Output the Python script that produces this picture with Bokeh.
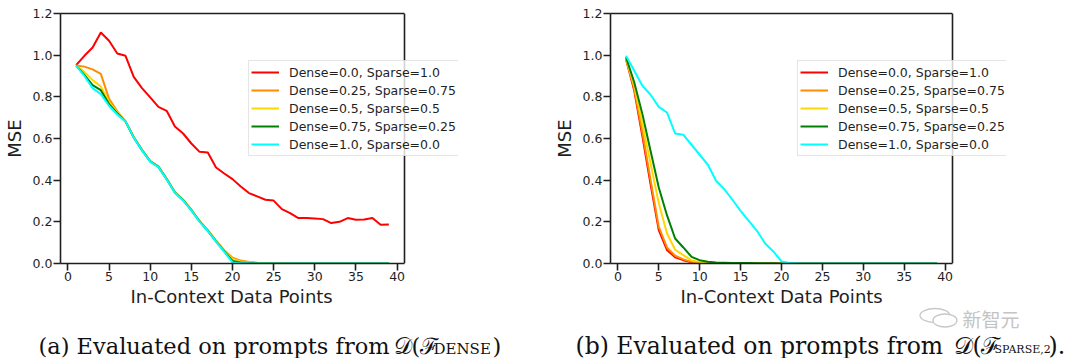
from bokeh.plotting import figure
from bokeh.layouts import column, row
from bokeh.models import (Range1d, FixedTicker, PrintfTickFormatter, Legend, LegendItem,
                          LinearAxis, Span, Title)
from bokeh.embed import file_html
from bokeh.resources import INLINE
from bokeh.core.properties import value

# ---------------- data ----------------
x_points = list(range(1, 40))
x_ticks = [0, 5, 10, 15, 20, 25, 30, 35, 40]
y_ticks = [0.0, 0.2, 0.4, 0.6, 0.8, 1.0, 1.2]

series_labels = ["Dense=0.0, Sparse=1.0", "Dense=0.25, Sparse=0.75", "Dense=0.5, Sparse=0.5",
                 "Dense=0.75, Sparse=0.25", "Dense=1.0, Sparse=0.0"]
series_colors = ["#ff0000", "#ff8c00", "#ffd700", "#008000", "#00ffff"]

x_label = "In-Context Data Points"
y_label = "MSE"

# panel (a): prompts from D(F_DENSE)
a_dense00 = [0.952, 0.997, 1.037, 1.109, 1.069, 1.008, 0.997, 0.896, 0.842, 0.797,
             0.752, 0.733, 0.658, 0.624, 0.576, 0.536, 0.533, 0.461, 0.432, 0.405,
             0.370, 0.338, 0.322, 0.306, 0.302, 0.261, 0.242, 0.218, 0.218, 0.216,
             0.213, 0.194, 0.200, 0.218, 0.210, 0.211, 0.218, 0.186, 0.187]
a_dense025 = [0.950, 0.945, 0.932, 0.910, 0.790, 0.730, 0.682, 0.607, 0.546, 0.492,
              0.466, 0.407, 0.343, 0.306, 0.258, 0.204, 0.160, 0.110, 0.064, 0.028,
              0.014, 0.007, 0.004, 0.002, 0.001, 0.001, 0.0005, 0.0005, 0.0004, 0.0004,
              0.0003, 0.0003, 0.0003, 0.0002, 0.0002, 0.0002, 0.0002, 0.0002, 0.0002]
a_dense05 = [0.950, 0.920, 0.880, 0.850, 0.775, 0.725, 0.682, 0.606, 0.545, 0.491,
             0.465, 0.406, 0.342, 0.305, 0.257, 0.203, 0.158, 0.108, 0.061, 0.022,
             0.010, 0.005, 0.002, 0.001, 0.001, 0.0005, 0.0004, 0.0003, 0.0003, 0.0002,
             0.0002, 0.0002, 0.0002, 0.0002, 0.0002, 0.0002, 0.0002, 0.0002, 0.0002]
a_dense075 = [0.950, 0.905, 0.856, 0.832, 0.765, 0.720, 0.682, 0.605, 0.544, 0.490,
              0.464, 0.405, 0.341, 0.304, 0.256, 0.202, 0.157, 0.106, 0.058, 0.012,
              0.005, 0.002, 0.001, 0.0005, 0.0004, 0.0003, 0.0002, 0.0002, 0.0002, 0.0001,
              0.0001, 0.0001, 0.0001, 0.0001, 0.0001, 0.0001, 0.0001, 0.0001, 0.0001]
a_dense10 = [0.950, 0.900, 0.842, 0.813, 0.757, 0.715, 0.682, 0.604, 0.543, 0.489,
             0.463, 0.404, 0.340, 0.303, 0.255, 0.201, 0.156, 0.105, 0.056, 0.005,
             0.002, 0.001, 0.0005, 0.0003, 0.0002, 0.0001, 0.0001, 0.0001, 0.0001, 0.0001,
             0.0001, 0.0001, 0.0001, 0.0001, 0.0001, 0.0001, 0.0001, 0.0001, 0.0001]

# panel (b): prompts from D(F_SPARSE,2)
b_dense00 = [0.980, 0.830, 0.610, 0.380, 0.160, 0.065, 0.030, 0.016, 0.006, 0.002,
             0.001, 0.0005, 0.0003, 0.0002, 0.0002, 0.0001, 0.0001, 0.0001, 0.0001, 0.0001,
             0.0001, 0.0001, 0.0001, 0.0001, 0.0001, 0.0001, 0.0001, 0.0001, 0.0001, 0.0001,
             0.0001, 0.0001, 0.0001, 0.0001, 0.0001, 0.0001, 0.0001, 0.0001, 0.0001]
b_dense025 = [0.980, 0.840, 0.630, 0.400, 0.176, 0.077, 0.037, 0.020, 0.008, 0.003,
              0.001, 0.0006, 0.0004, 0.0003, 0.0002, 0.0002, 0.0001, 0.0001, 0.0001, 0.0001,
              0.0001, 0.0001, 0.0001, 0.0001, 0.0001, 0.0001, 0.0001, 0.0001, 0.0001, 0.0001,
              0.0001, 0.0001, 0.0001, 0.0001, 0.0001, 0.0001, 0.0001, 0.0001, 0.0001]
b_dense05 = [0.985, 0.855, 0.670, 0.480, 0.290, 0.145, 0.066, 0.040, 0.015, 0.007,
             0.003, 0.001, 0.0006, 0.0004, 0.0003, 0.0002, 0.0002, 0.0001, 0.0001, 0.0001,
             0.0001, 0.0001, 0.0001, 0.0001, 0.0001, 0.0001, 0.0001, 0.0001, 0.0001, 0.0001,
             0.0001, 0.0001, 0.0001, 0.0001, 0.0001, 0.0001, 0.0001, 0.0001, 0.0001]
b_dense075 = [0.990, 0.870, 0.717, 0.540, 0.365, 0.232, 0.120, 0.077, 0.032, 0.016,
              0.008, 0.005, 0.004, 0.003, 0.002, 0.002, 0.001, 0.001, 0.0008, 0.0006,
              0.0005, 0.0004, 0.0003, 0.0003, 0.0002, 0.0002, 0.0002, 0.0002, 0.0002, 0.0002,
              0.0002, 0.0002, 0.0002, 0.0002, 0.0002, 0.0002, 0.0002, 0.0002, 0.0002]
b_dense10 = [0.997, 0.925, 0.853, 0.810, 0.752, 0.725, 0.624, 0.618, 0.570, 0.522,
             0.474, 0.397, 0.357, 0.306, 0.253, 0.205, 0.157, 0.096, 0.058, 0.010,
             0.002, 0.001, 0.0006, 0.0004, 0.0003, 0.0003, 0.0002, 0.0002, 0.0002, 0.0002,
             0.0002, 0.0002, 0.0002, 0.0002, 0.0003, 0.0002, 0.0002, 0.0002, 0.0002]

panel_a = [a_dense00, a_dense025, a_dense05, a_dense075, a_dense10]
panel_b = [b_dense00, b_dense025, b_dense05, b_dense075, b_dense10]

caption_a = "(a) Evaluated on prompts from"
caption_b = "(b) Evaluated on prompts from"
script_d = "𝒟"
script_f = "ℱ"
sub_a = "DENSE"
sub_b = "SPARSE,2"
watermark = "新智元"

FONT = "DejaVu Sans"
INK = "#1f1f1f"
X_LO, X_HI = -0.9, 40.9


def make_panel(series, core_w, frame_w, mb_left, mb_right, legend_xy, xlabel_offset):
    # frame is widened to the right so the legend may overhang the axes box
    x_end = X_LO + (X_HI - X_LO) * frame_w / core_w
    p = figure(frame_width=frame_w, frame_height=250,
               x_range=Range1d(X_LO, x_end), y_range=Range1d(0, 1.2),
               output_backend="svg", toolbar_location=None,
               min_border_left=mb_left, min_border_right=mb_right,
               min_border_top=13, min_border_bottom=20)
    p.background_fill_color = "white"
    p.border_fill_color = "white"
    p.outline_line_color = None
    p.xgrid.visible = False
    p.ygrid.visible = False

    renderers = []
    for vals, col in zip(series, series_colors):
        r = p.line(x_points, vals, line_color=col, line_width=2)
        renderers.append(r)

    p.xaxis.ticker = FixedTicker(ticks=x_ticks)
    p.xaxis.bounds = (X_LO, X_HI)
    p.yaxis.ticker = FixedTicker(ticks=y_ticks)
    p.yaxis.formatter = PrintfTickFormatter(format="%.1f")
    for ax in (p.xaxis, p.yaxis):
        ax.axis_line_color = INK
        ax.axis_line_width = 1.6
        ax.major_tick_out = 7
        ax.major_tick_in = 0
        ax.major_tick_line_color = INK
        ax.major_tick_line_width = 1.6
        ax.minor_tick_line_color = None
        ax.major_label_text_font = FONT
        ax.major_label_text_font_size = "12.5px"
        ax.major_label_text_color = INK
        ax.major_label_standoff = 1
    p.yaxis.axis_label = y_label
    p.yaxis.axis_label_text_font = FONT
    p.yaxis.axis_label_text_font_size = "18px"
    p.yaxis.axis_label_text_font_style = "normal"
    p.yaxis.axis_label_text_color = INK
    p.yaxis.axis_label_standoff = 5

    # x label placed under the axes box (not under the widened frame)
    p.add_layout(Title(text=x_label, align="left", offset=xlabel_offset,
                       text_font=FONT, text_font_size="18px", text_font_style="normal",
                       text_color=INK, standoff=0), "below")

    # top and right spines of the axes box
    top = LinearAxis(ticker=FixedTicker(ticks=[]), bounds=(X_LO, X_HI),
                     axis_line_color=INK, axis_line_width=1.6,
                     major_tick_line_color=None, minor_tick_line_color=None,
                     major_label_text_font_size="0px")
    p.add_layout(top, "above")
    p.add_layout(Span(location=X_HI, dimension="height", line_color=INK, line_width=1.6))

    items = [LegendItem(label=lab, renderers=[r]) for lab, r in zip(series_labels, renderers)]
    legend = Legend(items=items, location=legend_xy)
    legend.label_text_font = FONT
    legend.label_text_font_size = "12.5px"
    legend.label_text_color = INK
    legend.label_height = 18
    legend.glyph_height = 18
    legend.glyph_width = 28
    legend.label_standoff = 10
    legend.spacing = 0
    legend.padding = 2
    legend.margin = 0
    legend.border_line_color = "#cccccc"
    legend.border_line_width = 1
    legend.background_fill_color = "white"
    legend.background_fill_alpha = 0.8
    p.add_layout(legend)
    return p


pa = make_panel(panel_a, 344, 398, 58, 92, (188, 107), 70)
pb = make_panel(panel_b, 342, 396, 60, 76, (187, 107), 70)

# caption strip
CAP_H = 52
pc = figure(width=1080, height=CAP_H, x_range=Range1d(0, 1080), y_range=Range1d(0, CAP_H),
            output_backend="svg", toolbar_location=None, min_border=0,
            x_axis_location=None, y_axis_location=None)
pc.outline_line_color = None
pc.background_fill_color = "white"
pc.border_fill_color = "white"
pc.grid.visible = False

SERIF = value("DejaVu Serif")
CAP_COL = "#111111"


def cap_text(x, y, txt, size, font=SERIF):
    pc.text(x=[x], y=[y], text=[txt], text_font=font, text_font_size=size,
            text_color=CAP_COL, text_baseline="alphabetic", text_align="left")


BASE = 13
SUB = 9.5
cap_text(38, BASE, caption_a, "22.5px")
cap_text(393, BASE, script_d, "22.5px")
cap_text(411, BASE, "(", "22.5px")
cap_text(419, BASE, script_f, "22.5px")
cap_text(433, SUB, sub_a, "15px")
cap_text(492, BASE, ")", "22.5px")

cap_text(575, BASE, caption_b, "23.5px")
cap_text(953, BASE, script_d, "23.5px")
cap_text(972, BASE, "(", "23.5px")
cap_text(980, BASE, script_f, "23.5px")
cap_text(994, SUB, sub_b, "11px")
cap_text(1048, BASE, ").", "23.5px")

# watermark
pc.ellipse(x=[934.5], y=[43], width=30, height=14, fill_color=None,
           line_color="#c8c8c8", line_width=1.3)
pc.ellipse(x=[944.5], y=[38], width=24, height=13, fill_color="white",
           line_color="#c8c8c8", line_width=1.3)
pc.text(x=[962], y=[40], text=[watermark], text_font=value("Noto Sans CJK SC"),
        text_font_size="19px", text_color="#c4c4c4", text_baseline="middle", text_align="left")

layout = column(row(pa, pb, spacing=0), pc, spacing=0)
open("out.html", "w").write(file_html(layout, INLINE))
